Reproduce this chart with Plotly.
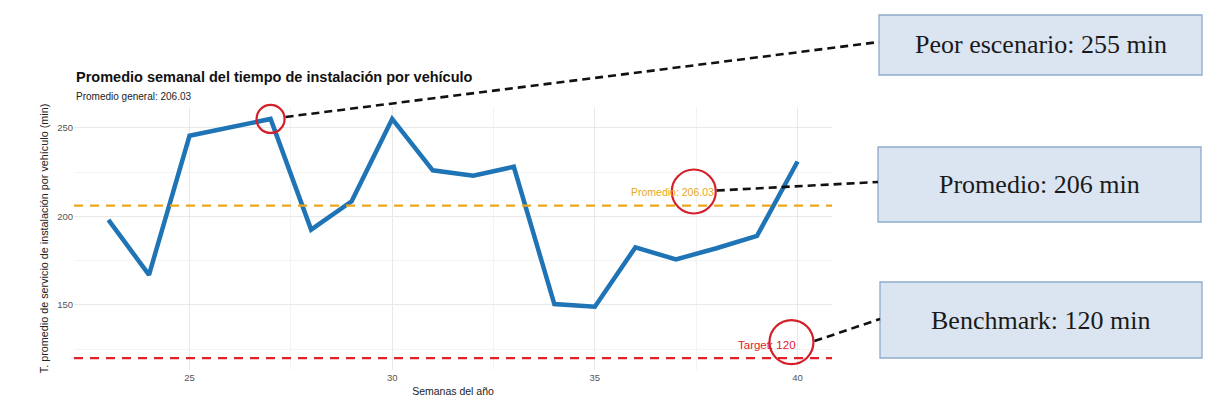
import plotly.graph_objects as go

# ---------------- data ----------------
weeks = [23, 24, 25, 26, 27, 28, 29, 30, 31, 32, 33, 34, 35, 36, 37, 38, 39, 40]
avg_time = [198, 167, 245.5, 250, 255, 192.5, 208.5, 255, 226, 223, 228,
            150.5, 149, 182.5, 175.7, 182, 189, 231]
overall_mean = 206.03
target = 120
x_ticks = [25, 30, 35, 40]
y_ticks = [150, 200, 250]
callouts = ["Peor escenario: 255 min", "Promedio: 206 min", "Benchmark: 120 min"]

# ---------------- layout geometry ----------------
W_FIG, H_FIG = 1223, 414
L, T, PW, PH = 74, 107, 758, 263
XR = [22.15, 40.85]
YR = [113.25, 261.75]


def px(x):
    return (x - L) / PW


def py(y):
    return (T + PH - y) / PH


def dx(v):
    return (v - XR[0]) / (XR[1] - XR[0])


def dy(v):
    return (v - YR[0]) / (YR[1] - YR[0])


FONT = "Liberation Sans, Arial, sans-serif"
SERIF = "Liberation Serif, DejaVu Serif, serif"
BLUE = "#1f74b5"
ORANGE = "#e8a820"
RED = "#e0202a"
CIRCLE = "#d3202a"

fig = go.Figure()

fig.add_trace(go.Scatter(
    x=weeks, y=avg_time, mode="lines",
    line=dict(color=BLUE, width=4.5),
    hoverinfo="skip", showlegend=False,
))

# reference lines
fig.add_shape(type="line", xref="paper", yref="y", x0=0, x1=1,
              y0=overall_mean, y1=overall_mean,
              line=dict(color=ORANGE, width=2.2, dash="9px,7px"))
fig.add_shape(type="line", xref="paper", yref="y", x0=0, x1=1,
              y0=target, y1=target,
              line=dict(color=RED, width=2.2, dash="9px,7px"))

# labels on lines
fig.add_annotation(x=38, y=overall_mean + 8, text="Promedio: %.2f" % overall_mean,
                   xanchor="right", yanchor="middle", showarrow=False,
                   font=dict(family=FONT, size=10.5, color=ORANGE))
fig.add_annotation(x=40, y=target + 7.5, text="Target: %d" % target,
                   xanchor="right", yanchor="middle", showarrow=False,
                   font=dict(family=FONT, size=11.5, color=RED))

# highlight circles (paper-referenced so they are not clipped)
max_idx = avg_time.index(max(avg_time))
circles = [
    (weeks[max_idx], avg_time[max_idx], 14),
    (37.44, overall_mean + 8, 22),
    (39.85, target + 9, 22),
]
for cx, cy, r in circles:
    fig.add_shape(type="circle", xref="paper", yref="paper",
                  xsizemode="pixel", ysizemode="pixel",
                  xanchor=dx(cx), yanchor=dy(cy), x0=-r, x1=r, y0=-r, y1=r,
                  line=dict(color=CIRCLE, width=2.2), layer="above")

# callout boxes (pixel rectangles)
boxes = [(879, 15, 1202, 75), (878, 147, 1201, 222), (880, 282, 1202, 358)]
box_anchor_y = [42, 182, 319]
for (x0, y0, x1, y1), txt in zip(boxes, callouts):
    fig.add_shape(type="rect", xref="paper", yref="paper",
                  x0=px(x0), x1=px(x1), y0=py(y1), y1=py(y0),
                  fillcolor="#dbe5f1", line=dict(color="#8eaacb", width=1.3),
                  layer="above")
    fig.add_annotation(xref="paper", yref="paper",
                       x=px((x0 + x1) / 2), y=py((y0 + y1) / 2),
                       text=txt, showarrow=False,
                       xanchor="center", yanchor="middle",
                       font=dict(family=SERIF, size=26, color="#1a1a1a"))

# connectors: from circle edge to box
for (cx, cy, r), (bx0, by0, bx1, by1), ay in zip(circles, boxes, box_anchor_y):
    sx = dx(cx) + (r + 1) / PW
    sy = dy(cy) + (2 if r < 20 else 1) / PH
    fig.add_shape(type="line", xref="paper", yref="paper",
                  x0=sx, y0=sy, x1=px(bx0), y1=py(ay),
                  line=dict(color="#111111", width=2.6, dash="8px,5px"),
                  layer="above")

# title & subtitle
fig.add_annotation(xref="paper", yref="paper", x=0, y=py(77),
                   text="<b>Promedio semanal del tiempo de instalación por vehículo</b>",
                   showarrow=False, xanchor="left", yanchor="middle",
                   font=dict(family=FONT, size=14.5, color="#111111"))
fig.add_annotation(xref="paper", yref="paper", x=0, y=py(96),
                   text="Promedio general: %.2f" % overall_mean,
                   showarrow=False, xanchor="left", yanchor="middle",
                   font=dict(family=FONT, size=10, color="#222222"))

fig.update_xaxes(
    range=XR, tickvals=x_ticks, ticktext=[str(v) for v in x_ticks],
    showgrid=True, gridcolor="#e9e9e9", gridwidth=1,
    minor=dict(tickvals=[27.5, 32.5, 37.5], showgrid=True,
               gridcolor="#f3f3f3", gridwidth=1),
    zeroline=False, showline=False, ticks="",
    tickfont=dict(family=FONT, size=9.5, color="#555555"),
    title=dict(text="Semanas del año", standoff=6,
               font=dict(family=FONT, size=10.5, color="#222222")),
)
fig.update_yaxes(
    range=YR, tickvals=y_ticks, ticktext=[str(v) for v in y_ticks],
    showgrid=True, gridcolor="#e9e9e9", gridwidth=1,
    minor=dict(tickvals=[125, 175, 225], showgrid=True,
               gridcolor="#f3f3f3", gridwidth=1),
    zeroline=False, showline=False, ticks="",
    tickfont=dict(family=FONT, size=9.5, color="#555555"),
    title=dict(text="T. promedio de servicio de instalación por vehículo (min)",
               standoff=6, font=dict(family=FONT, size=10.8, color="#222222")),
)

fig.update_layout(
    width=W_FIG, height=H_FIG,
    margin=dict(l=L, r=W_FIG - L - PW, t=T, b=H_FIG - T - PH, autoexpand=False),
    paper_bgcolor="white", plot_bgcolor="white",
    showlegend=False,
)

fig.write_html("out.html")
